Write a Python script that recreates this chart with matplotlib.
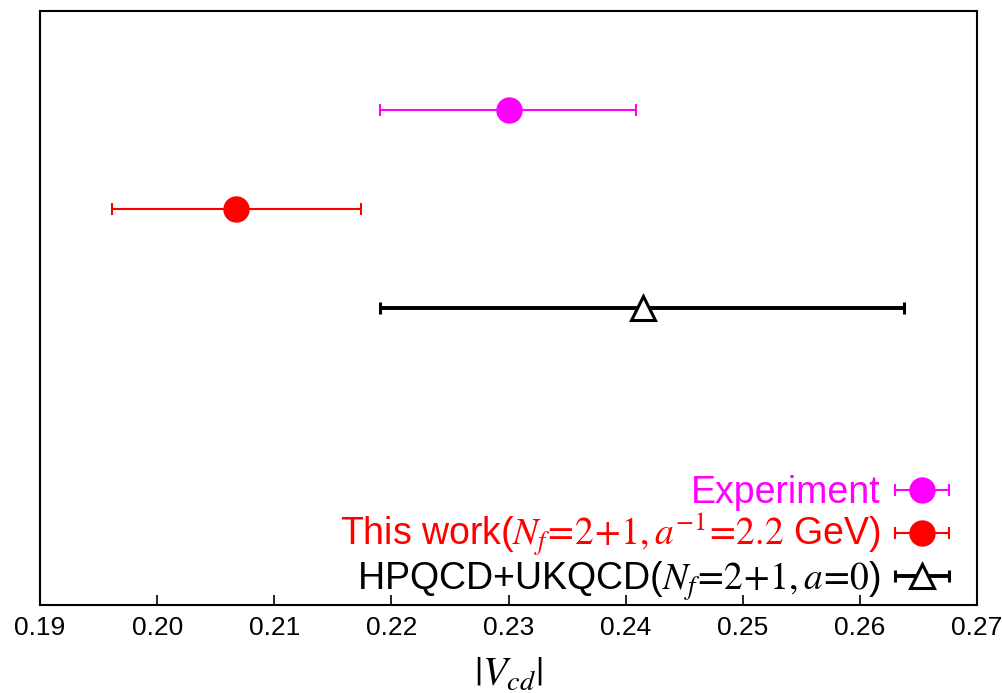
import matplotlib
matplotlib.use('Agg')
import matplotlib.pyplot as plt
from matplotlib.legend_handler import HandlerErrorbar

plt.rcParams['font.family'] = ['Liberation Sans', 'DejaVu Sans']
plt.rcParams['mathtext.fontset'] = 'stix'

# |V_cd| results
labels = ['Experiment',
          r'This work($N_f\!=\!2\!+\!1,a^{-1}\!=\!2.2$ GeV)',
          r'HPQCD+UKQCD($N_f\!=\!2\!+\!1,a\!=\!0$)']
values = [0.2300, 0.2067, 0.2415]
err_lo = [0.0110, 0.0106, 0.0225]
err_hi = [0.0109, 0.0107, 0.0223]
rows = [5, 4, 3]
colors = ['magenta', 'red', 'black']
xticks = [0.19, 0.20, 0.21, 0.22, 0.23, 0.24, 0.25, 0.26, 0.27]

fig = plt.figure(figsize=(10.02, 6.93), dpi=100)
ax = fig.add_axes([0.040, 0.127, 0.935, 0.857])

styles = [dict(marker='o', mfc='magenta', mec='magenta', ms=18, elinewidth=1.5),
          dict(marker='o', mfc='red', mec='red', ms=18, elinewidth=1.5),
          dict(marker='^', mfc='white', mec='black', ms=17, mew=2.2, elinewidth=2.8)]

handles = []
for i in range(len(values)):
    h = ax.errorbar(values[i], rows[i], xerr=[[err_lo[i]], [err_hi[i]]],
                    color=colors[i], ls='none', capsize=4, capthick=1.5,
                    label=labels[i], **styles[i])
    handles.append(h)

ax.set_xlim(0.19, 0.27)
ax.set_ylim(0, 6)
ax.set_xticks(xticks)
ax.set_xticklabels(['%.2f' % t for t in xticks], fontsize=19)
ax.set_yticks([])
ax.tick_params(axis='x', direction='in', length=7, width=1.2, pad=8)
for s in ax.spines.values():
    s.set_linewidth(1.5)

ax.set_xlabel(r'$|V_{cd}|$', fontsize=29, labelpad=11)

leg = ax.legend(handles=handles, loc='lower right', bbox_to_anchor=(0.971, 0.004),
                markerfirst=False, frameon=False, fontsize=27,
                handlelength=1.5, handletextpad=0.35,
                labelspacing=0.0, borderaxespad=0.0, borderpad=0.0,
                labelcolor=colors,
                handler_map={type(handles[0]): HandlerErrorbar(xerr_size=0.72)})

fig.savefig('out.png', dpi=100)
